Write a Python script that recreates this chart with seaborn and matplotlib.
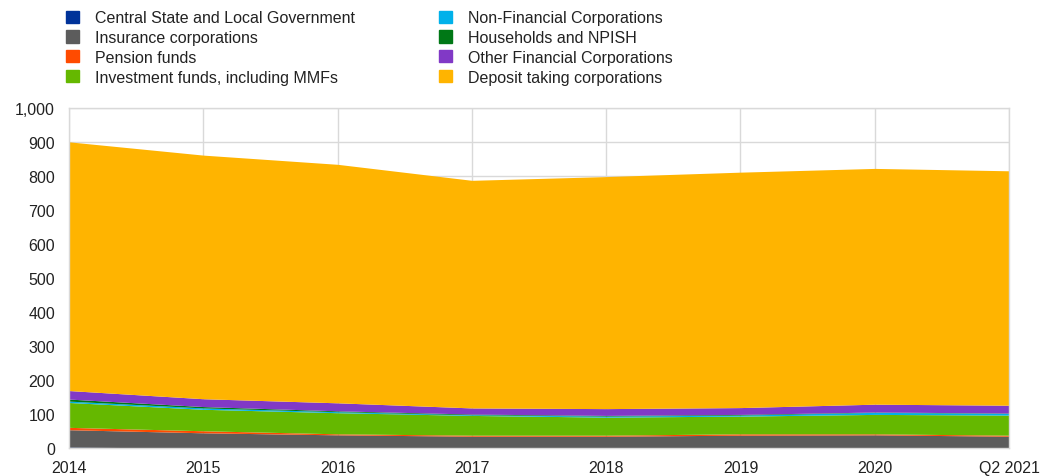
import matplotlib
matplotlib.use("Agg")
import matplotlib.pyplot as plt
import matplotlib.patches as mpatches
import numpy as np
import seaborn as sns

# ---------------------------------------------------------------------------
# Data (EUR billions)
# ---------------------------------------------------------------------------

periods = ["2014", "2015", "2016", "2017", "2018", "2019", "2020", "Q2 2021"]

central_gov   = [4.0, 1.0, 0.5, 0.5, 0.5, 0.5, 0.5, 0.5]
insurance     = [51, 45, 39.5, 35.5, 35.5, 38.5, 39.5, 35.5]
pension       = [7, 6, 3, 3, 3, 4, 3, 3]
investment    = [73, 63, 62, 58, 53, 52, 57, 59]
non_fin_corp  = [4, 4, 3, 2, 3, 3, 6, 5]
households    = [6, 4, 2.5, 2, 2, 2, 1, 1]
other_fin     = [25, 23, 23.5, 18, 20, 20, 23, 23]
deposit_corp  = [730, 715, 700, 668, 681, 691, 692, 688]

labels = [
    "Central State and Local Government",
    "Insurance corporations",
    "Pension funds",
    "Investment funds, including MMFs",
    "Non-Financial Corporations",
    "Households and NPISH",
    "Other Financial Corporations",
    "Deposit taking corporations",
]
colors = ["#003299", "#5c5c5c", "#ff4b00", "#65b800",
          "#00b1ea", "#007816", "#8139c6", "#ffb400"]

# ---------------------------------------------------------------------------
# Plot
# ---------------------------------------------------------------------------

sns.set_theme(style="whitegrid")
plt.rcParams["font.family"] = ["Liberation Sans", "DejaVu Sans"]

fig = plt.figure(figsize=(10.5, 4.77), dpi=100)
ax = fig.add_axes([0.0657, 0.0577, 0.8953, 0.7143])

x = np.arange(len(periods))
series = [central_gov, insurance, pension, investment,
          non_fin_corp, households, other_fin, deposit_corp]
ax.stackplot(x, *series, colors=colors, labels=labels, linewidth=0, zorder=2)

ax.set_xlim(0, len(periods) - 1)
ax.set_ylim(0, 1000)
ax.set_xticks(x)
ax.set_xticklabels(periods)
ax.set_yticks(np.arange(0, 1001, 100))
ax.yaxis.set_major_formatter(matplotlib.ticker.FuncFormatter(lambda v, _: f"{v:,.0f}"))

ax.set_facecolor("white")
ax.grid(True, color="#d9d9d9", linewidth=1.0, zorder=0)
ax.set_axisbelow(True)
for side in ["left", "right", "top", "bottom"]:
    ax.spines[side].set_visible(True)
    ax.spines[side].set_color("#d9d9d9")
    ax.spines[side].set_linewidth(1.0)
ax.tick_params(axis="both", labelsize=11.5, colors="#222222", length=0)
ax.tick_params(axis="x", pad=8)
ax.tick_params(axis="y", pad=10)

handles = [mpatches.Patch(color=c, label=l) for c, l in zip(colors, labels)]
fig.legend(
    handles=handles, ncol=2, loc="upper left",
    bbox_to_anchor=(0.052, 1.0), frameon=False, fontsize=11.5,
    handlelength=0.8, handleheight=0.8, handletextpad=1.0,
    labelspacing=0.3, columnspacing=5.3, borderpad=0.2,
    labelcolor="#222222",
)

plt.savefig("out.png", dpi=100)
plt.close()
